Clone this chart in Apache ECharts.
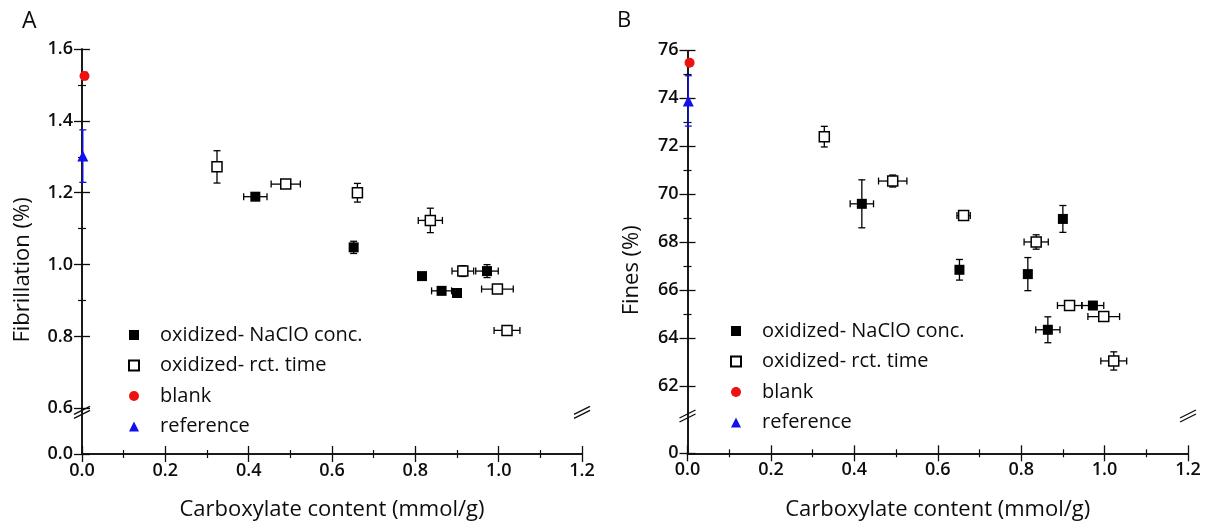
<!DOCTYPE html>
<html>
<head>
<meta charset="utf-8">
<script src="https://cdn.jsdelivr.net/npm/echarts@6.0.0/dist/echarts.min.js"></script>
<style>
    html, body { margin: 0; padding: 0; background: #fff; }
    #chart { width: 1211px; height: 527px; }
</style>
</head>
<body>
<div id="chart"></div>
<script>
    // 图例名称
    var legendNames = ['oxidized- NaClO conc.', 'oxidized- rct. time', 'blank', 'reference'];

    // ---- A: Fibrillation (%) ----
    // oxidized- NaClO conc. (实心方块)
    var concAx = [0.416, 0.652, 0.816, 0.863, 0.900, 0.972];
    var concAy = [1.189, 1.048, 0.968, 0.927, 0.921, 0.982];
    var concAxErr = [0.028, 0.005, 0.008, 0.024, 0.005, 0.027];
    var concAyErr = [0.008, 0.017, 0.008, 0.008, 0.008, 0.018];
    // oxidized- rct. time (空心方块)
    var timeAx = [0.324, 0.489, 0.661, 0.836, 0.914, 0.997, 1.020];
    var timeAy = [1.272, 1.224, 1.200, 1.123, 0.982, 0.932, 0.817];
    var timeAxErr = [0.010, 0.035, 0.008, 0.029, 0.026, 0.038, 0.031];
    var timeAyErr = [0.045, 0.008, 0.026, 0.034, 0.015, 0.008, 0.008];
    // blank / reference
    var blankA = [0.006, 1.525, 0, 0.010];
    var refA = [0.002, 1.302, 0, 0.073];
    var breakA = [0.127, 0.6];
    var yTicksA = [0, 0.6, 0.8, 1.0, 1.2, 1.4, 1.6];

    // ---- B: Fines (%) ----
    var concBx = [0.418, 0.652, 0.816, 0.864, 0.900, 0.972];
    var concBy = [69.6, 66.85, 66.67, 64.35, 68.97, 65.36];
    var concBxErr = [0.028, 0.005, 0.005, 0.029, 0.005, 0.026];
    var concByErr = [1.0, 0.43, 0.69, 0.54, 0.56, 0.1];
    var timeBx = [0.328, 0.492, 0.662, 0.836, 0.916, 0.998, 1.022];
    var timeBy = [72.4, 70.55, 69.11, 68.01, 65.36, 64.9, 63.05];
    var timeBxErr = [0.010, 0.034, 0.016, 0.029, 0.029, 0.038, 0.031];
    var timeByErr = [0.43, 0.25, 0.1, 0.3, 0.1, 0.1, 0.38];
    var blankB = [0.005, 75.48, 0, 0.1];
    var refB = [0.002, 73.89, 0, 1.05];
    var breakB = [1.72, 60.92];
    var yTicksB = [0, 62, 64, 66, 68, 70, 72, 74, 76];

    var xTicks = [0, 0.2, 0.4, 0.6, 0.8, 1.0, 1.2];

    var FONT = '"Open Sans", "DejaVu Sans", sans-serif';
    var INK = '#0d0d0d';
    var RED = '#ee1111';
    var BLUE = '#1111ee';

    function pts(xs, ys, exs, eys) {
        return xs.map(function (x, i) { return [x, ys[i], exs[i], eys[i]]; });
    }

    // 误差棒 (custom series)
    function errBar(color) {
        return function (params, api) {
            var x = api.value(0), y = api.value(1), ex = api.value(2), ey = api.value(3);
            var c = api.coord([x, y]);
            var st = { stroke: color, lineWidth: 1.3 };
            var cap = 3.5;
            var kids = [];
            if (ey > 0) {
                var t = api.coord([x, y + ey])[1], b = api.coord([x, y - ey])[1];
                kids.push({ type: 'line', shape: { x1: c[0], y1: t, x2: c[0], y2: b }, style: st });
                kids.push({ type: 'line', shape: { x1: c[0] - cap, y1: t, x2: c[0] + cap, y2: t }, style: st });
                kids.push({ type: 'line', shape: { x1: c[0] - cap, y1: b, x2: c[0] + cap, y2: b }, style: st });
            }
            if (ex > 0) {
                var l = api.coord([x - ex, y])[0], r = api.coord([x + ex, y])[0];
                kids.push({ type: 'line', shape: { x1: l, y1: c[1], x2: r, y2: c[1] }, style: st });
                kids.push({ type: 'line', shape: { x1: l, y1: c[1] - cap, x2: l, y2: c[1] + cap }, style: st });
                kids.push({ type: 'line', shape: { x1: r, y1: c[1] - cap, x2: r, y2: c[1] + cap }, style: st });
            }
            return { type: 'group', children: kids };
        };
    }

    function errSeries(data, color, axis) {
        return {
            type: 'custom', xAxisIndex: axis, yAxisIndex: axis, data: data,
            encode: { x: 0, y: 1 }, renderItem: errBar(color), silent: true, clip: false, z: 2
        };
    }

    var markStyle = {
        'oxidized- NaClO conc.': { symbol: 'rect', symbolSize: 10, itemStyle: { color: '#000', opacity: 1 } },
        'oxidized- rct. time': { symbol: 'rect', symbolSize: 10, itemStyle: { color: '#fff', borderColor: '#000', borderWidth: 1.5, opacity: 1 } },
        'blank': { symbol: 'circle', symbolSize: 10, itemStyle: { color: RED, opacity: 1 } },
        'reference': { symbol: 'triangle', symbolSize: 11, itemStyle: { color: BLUE, opacity: 1 } }
    };

    function scatter(name, data, axis) {
        var s = markStyle[name];
        return {
            type: 'scatter', name: name, xAxisIndex: axis, yAxisIndex: axis,
            data: data.map(function (d) { return [d[0], d[1]]; }),
            symbol: s.symbol, symbolSize: s.symbolSize, itemStyle: s.itemStyle,
            clip: false, z: 3, emphasis: { disabled: true }
        };
    }

    function panelSeries(conc, time, blank, ref, axis) {
        return [
            errSeries(conc, '#000', axis),
            errSeries(time, '#000', axis),
            errSeries([blank], RED, axis),
            errSeries([ref], BLUE, axis),
            scatter('oxidized- NaClO conc.', conc, axis),
            scatter('oxidized- rct. time', time, axis),
            scatter('blank', [blank], axis),
            scatter('reference', [ref], axis)
        ];
    }

    var lineSt = { show: true, lineStyle: { color: INK, width: 1.5 } };
    var minorSt = { show: true, splitNumber: 2, length: 4, lineStyle: { color: INK, width: 1.2 } };

    function tickSt(vals) {
        return { show: true, inside: true, length: 8, customValues: vals, lineStyle: { color: INK, width: 1.3 } };
    }

    function xAx(grid, pos) {
        var bottom = pos === 'bottom';
        return {
            type: 'value', gridIndex: grid, position: pos, min: 0, max: 1.2, interval: 0.2,
            axisLine: lineSt, axisTick: tickSt(xTicks), minorTick: minorSt, splitLine: { show: false },
            axisLabel: {
                show: bottom, margin: 8, color: INK, fontFamily: FONT, fontSize: 18, fontWeight: 600,
                customValues: xTicks, showMinLabel: true, showMaxLabel: true,
                formatter: function (v) { return v.toFixed(1); }
            },
            name: bottom ? 'Carboxylate content (mmol/g)' : '',
            nameLocation: 'middle', nameGap: 45,
            nameTextStyle: { color: INK, fontFamily: FONT, fontSize: 22 }
        };
    }

    function yAx(grid, pos, max, interval, brk, ticks, name, dec, gap) {
        var left = pos === 'left';
        return {
            type: 'value', gridIndex: grid, position: pos, min: 0, max: max, interval: interval,
            breaks: [{ start: brk[0], end: brk[1], gap: 0 }],
            breakArea: { show: false, expandOnClick: false },
            breakLabelLayout: { moveOverlap: false },
            axisLine: lineSt, axisTick: tickSt(ticks), minorTick: minorSt, splitLine: { show: false },
            axisLabel: {
                show: left, margin: 9, color: INK, fontFamily: FONT, fontSize: 18, fontWeight: 600,
                customValues: ticks, showMinLabel: true, showMaxLabel: true,
                formatter: function (v) { return v.toFixed(dec); }
            },
            name: left ? name : '',
            nameLocation: 'middle', nameGap: gap,
            nameTextStyle: { color: INK, fontFamily: FONT, fontSize: 22, padding: [0, 37, 0, 0] }
        };
    }

    function legend(left, top) {
        return {
            orient: 'vertical', left: left, top: top, itemWidth: 10, itemHeight: 10, itemGap: 10.5,
            selectedMode: false, data: legendNames,
            textStyle: { color: INK, fontFamily: FONT, fontSize: 20, lineHeight: 20, padding: [0, 0, 0, 16] }
        };
    }

    var chart = echarts.init(document.getElementById('chart'));
    chart.setOption({
        animation: false,
        backgroundColor: '#fff',
        grid: [
            { left: 82, top: 49, width: 500, height: 405, outerBoundsMode: 'none' },
            { left: 687.5, top: 50.3, width: 500.5, height: 403, outerBoundsMode: 'none' }
        ],
        xAxis: [xAx(0, 'bottom'), xAx(0, 'top'), xAx(1, 'bottom'), xAx(1, 'top')],
        yAxis: [
            yAx(0, 'left', 1.6, 0.2, breakA, yTicksA, 'Fibrillation (%)', 1, 48),
            yAx(0, 'right', 1.6, 0.2, breakA, yTicksA, '', 1, 48),
            yAx(1, 'left', 76, 2, breakB, yTicksB, 'Fines (%)', 0, 45),
            yAx(1, 'right', 76, 2, breakB, yTicksB, '', 0, 45)
        ],
        legend: [legend(123, 320), legend(725, 316)],
        series: [].concat(
            panelSeries(pts(concAx, concAy, concAxErr, concAyErr), pts(timeAx, timeAy, timeAxErr, timeAyErr), blankA, refA, 0),
            panelSeries(pts(concBx, concBy, concBxErr, concByErr), pts(timeBx, timeBy, timeBxErr, timeByErr), blankB, refB, 2)
        )
    });

    // 断轴标记 "//"
    function breakMark(x, y) {
        var st = { stroke: INK, lineWidth: 1.3 };
        return {
            type: 'group', z: 100, children: [
                { type: 'rect', shape: { x: x - 3, y: y - 2.5, width: 6, height: 5 }, style: { fill: '#fff' } },
                { type: 'line', shape: { x1: x - 8, y1: y + 2, x2: x + 8, y2: y - 6 }, style: st },
                { type: 'line', shape: { x1: x - 8, y1: y + 6, x2: x + 8, y2: y - 2 }, style: st }
            ]
        };
    }

    var marks = [
        { type: 'text', left: 22, top: 10, style: { text: 'A', fill: INK, font: '23px ' + FONT } },
        { type: 'text', left: 617, top: 10, style: { text: 'B', fill: INK, font: '22px ' + FONT } }
    ];
    [[0, breakA[1]], [1, breakB[1]]].forEach(function (b) {
        var p0 = chart.convertToPixel({ xAxisIndex: b[0] * 2, yAxisIndex: b[0] * 2 }, [0, b[1]]);
        var p1 = chart.convertToPixel({ xAxisIndex: b[0] * 2, yAxisIndex: b[0] * 2 }, [1.2, b[1]]);
        marks.push(breakMark(p0[0], p0[1] + 4));
        marks.push(breakMark(p1[0], p1[1] + 4));
    });
    chart.setOption({ graphic: marks });
</script>
</body>
</html>
